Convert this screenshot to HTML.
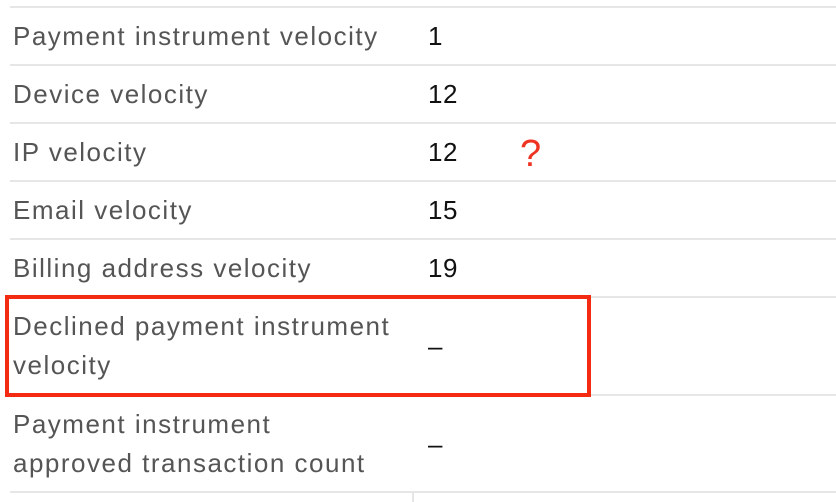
<!DOCTYPE html>
<html><head><meta charset="utf-8"><style>
body{margin:0;width:836px;height:502px;background:#fff;overflow:hidden;position:relative;font-family:"Liberation Sans",sans-serif}
.line{position:absolute;left:10px;right:0;height:2px;background:#e6e6e6}
.lbl{position:absolute;left:13px;color:#555;font-size:26px;line-height:39px;letter-spacing:1.5px}
.val{position:absolute;left:428px;color:#111;font-size:26px;line-height:39px;letter-spacing:0.5px}
</style></head><body>
<div class="line" style="top:6px"></div>
<div class="line" style="top:64px"></div>
<div class="line" style="top:122px"></div>
<div class="line" style="top:180px"></div>
<div class="line" style="top:238px"></div>
<div class="line" style="top:296px"></div>
<div class="line" style="top:394px"></div>
<div class="line" style="top:491px"></div>
<div style="position:absolute;left:412px;top:493px;width:2px;height:9px;background:#e6e6e6"></div>

<div class="lbl" style="top:17px">Payment instrument velocity</div>
<div class="val" style="top:17px">1</div>
<div class="lbl" style="top:75px">Device velocity</div>
<div class="val" style="top:75px">12</div>
<div class="lbl" style="top:133px">IP velocity</div>
<div class="val" style="top:133px">12</div>
<div style="position:absolute;left:520px;top:132px;color:#ee3322;font-size:38px;line-height:44px">?</div>
<div class="lbl" style="top:191px">Email velocity</div>
<div class="val" style="top:191px">15</div>
<div class="lbl" style="top:249px">Billing address velocity</div>
<div class="val" style="top:249px">19</div>
<div class="lbl" style="top:307px">Declined payment instrument<br>velocity</div>
<div class="val" style="top:327px">–</div>
<div class="lbl" style="top:405px">Payment instrument<br>approved transaction count</div>
<div class="val" style="top:425px">–</div>

<div style="position:absolute;left:5px;top:295px;width:578px;height:94px;border:4px solid #f42a12"></div>
</body></html>
